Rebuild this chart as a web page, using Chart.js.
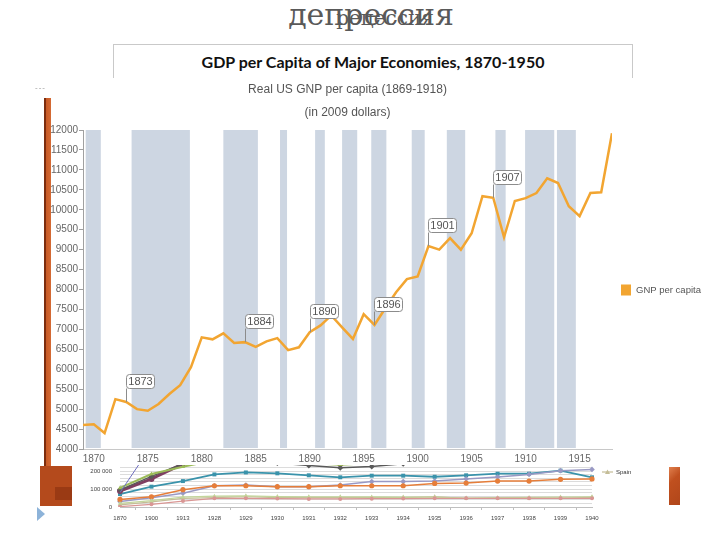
<!DOCTYPE html>
<html>
<head>
<meta charset="utf-8">
<script src="https://cdn.jsdelivr.net/npm/chart.js@4.4.1/dist/chart.umd.min.js"></script>
<style>
  html, body { margin: 0; padding: 0; background: #fff; }
  #slide { position: relative; width: 720px; height: 540px; overflow: hidden; background: #fff; }
  .heading { position: absolute; left: 0; line-height: 1; font-family: "DejaVu Serif", serif; color: #595959; text-align: center; white-space: nowrap; }
  #hBig { top: 0; width: 742px; font-size: 30px; }
  #hSmall { top: 8px; width: 770px; font-size: 20px; }
  #gdpBox { position: absolute; left: 113px; top: 44px; width: 518px; height: 60px; border: 1px solid #c9c9c9; text-align: center; }
  #gdpBox span { position: absolute; left: 0; right: 0; top: 9px; line-height: 1; font-family: Lato, "Open Sans", sans-serif; font-weight: bold; font-size: 16px; color: #111; }
  #lowerWrap { position: absolute; left: 0; top: 400px; z-index: 1; }
  #mainWrap { position: absolute; left: 0; top: 78px; z-index: 2; background: #fff; }
  canvas { display: block; }
  .deco { position: absolute; z-index: 3; }
  #dots { left: 35px; top: 83px; font: 8px "Liberation Sans", sans-serif; color: #999; letter-spacing: 1px; }
  #bar { left: 44px; top: 98px; width: 7px; height: 395px; background: linear-gradient(to right, #7c2d0e 0, #7c2d0e 30%, #c85a26 30%, #d46a34 100%); }
  #frame { left: 40px; top: 466px; width: 32px; height: 40px; background: #b44a1c; }
  #frameIn { left: 55px; top: 487px; width: 17px; height: 13px; background: #9a3a14; }
  #rightFrame { left: 669px; top: 467px; width: 11px; height: 38px; background: linear-gradient(135deg, #e0804e 0, #c0501f 35%, #b0461a 100%); }
  #arrow { left: 37px; top: 507px; width: 0; height: 0; border-left: 8px solid #8db3d9; border-top: 7px solid transparent; border-bottom: 7px solid transparent; }
</style>
</head>
<body>
<div id="slide">
  <div class="heading" id="hBig">депрессия</div>
  <div class="heading" id="hSmall">рецессия</div>
  <div id="gdpBox"><span>GDP per Capita of Major Economies, 1870-1950</span></div>
  <div id="lowerWrap"><canvas id="gdpChart" width="720" height="140"></canvas></div>
  <div id="mainWrap"><canvas id="gnpChart" width="720" height="387"></canvas></div>
  <div class="deco" id="dots">---</div>
  <div class="deco" id="bar"></div>
  <div class="deco" id="frame"></div>
  <div class="deco" id="frameIn"></div>
  <div class="deco" id="rightFrame"></div>
  <div class="deco" id="arrow"></div>
</div>
<script>
// MAIN CHART DATA
const years = [1869, 1870, 1871, 1872, 1873, 1874, 1875, 1876, 1877, 1878,
  1879, 1880, 1881, 1882, 1883, 1884, 1885, 1886, 1887, 1888,
  1889, 1890, 1891, 1892, 1893, 1894, 1895, 1896, 1897, 1898,
  1899, 1900, 1901, 1902, 1903, 1904, 1905, 1906, 1907, 1908,
  1909, 1910, 1911, 1912, 1913, 1914, 1915, 1916, 1917, 1918]
const gnpPerCapita = [4600, 4620, 4400, 5250, 5180, 5000, 4960, 5130, 5380, 5600,
  6050, 6800, 6750, 6900, 6660, 6680, 6560, 6700, 6780, 6480,
  6550, 6930, 7100, 7350, 7050, 6760, 7380, 7110, 7530, 7930,
  8260, 8330, 9090, 9000, 9290, 9000, 9410, 10340, 10300, 9310,
  10220, 10290, 10420, 10790, 10670, 10090, 9840, 10420, 10440, 11920]
const recessionStart = [1869.25, 1873.5, 1882.0, 1887.25, 1890.5, 1893.0, 1895.7, 1899.45, 1902.7, 1907.2, 1909.95, 1912.9]
const recessionEnd = [1870.65, 1878.9, 1885.2, 1887.9, 1891.4, 1894.4, 1897.1, 1900.65, 1904.4, 1908.15, 1912.65, 1914.65]
const markedYears = [1873, 1884, 1890, 1896, 1901, 1907]
const xTickYears = [1870, 1875, 1880, 1885, 1890, 1895, 1900, 1905, 1910, 1915]

// LOWER (CROPPED) CHART DATA
const gdpYears = ['1870', '1900', '1913', '1928', '1929', '1930', '1931', '1932', '1933', '1934', '1935', '1936', '1937', '1938', '1939', '1940']
const gdpGridValues = [0, 20000, 40000, 60000, 80000, 100000, 120000, 140000, 160000, 180000, 200000, 220000, 240000]
const gdpLabelValues = [0, 100000, 200000]
const tealSeries = [72000, 113000, 144000, 181000, 192000, 187000, 176000, 165000, 174000, 174000, 168000, 176000, 185000, 185000, 202000, 165000]
const lavenderSeries = [30000, 52000, 76000, 118000, 122000, 113000, 113000, 122000, 141000, 141000, 144000, 156000, 167000, 181000, 202000, 209000]
const orangeSeries = [42000, 57000, 96000, 118000, 118000, 113000, 113000, 118000, 118000, 118000, 131000, 133000, 144000, 144000, 154000, 156000]
const spainSeries = [12000, 29000, 48000, 52000, 57000, 52000, 52000, 52000, 52000, 52000, 57000, 48000, 50000, 48000, 50000, 54000]
const greenSeries = [20000, 35000, 55000, 60000, 62000, 58000, 57000, 57000, 56000, 55000, 55000, 50000, 52000, 53000, 55000, 57000]
const salmonSeries = [2000, 15000, 33000, 48000, 48000, 47000, 45000, 45000, 46000, 47000, 48000, 48000, 48000, 48000, 48000, 48000]
const maroonSeries = [89000, 156000, 240000, 280000, 290000, 270000, 255000, 240000, 250000, 260000, 270000, 280000, 290000, 285000, 300000, 310000]
const greySeries = [95000, 170000, 240000, 250000, 260000, 245000, 230000, 218000, 225000, 240000, 250000, 255000, 260000, 255000, 270000, 280000]
const oliveSeries = [106000, 183000, 224000, 260000, 270000, 255000, 245000, 235000, 245000, 255000, 265000, 270000, 280000, 280000, 290000, 300000]
const blueSeries = [80000, 340000, 400000, 420000, 430000, 410000, 400000, 390000, 400000, 410000, 420000, 430000, 440000, 440000, 450000, 460000]

const FONT = '"Liberation Sans", Arial, sans-serif'
const lineColor = '#f2a531'


// RECESSION BANDS
const recessionBands = {
    id: 'recessionBands',
    beforeDatasetsDraw(chart) {
        const { ctx, chartArea, scales: { x } } = chart
        ctx.save()
        ctx.fillStyle = '#cdd6e2'
        recessionStart.forEach((start, i) => {
            const x0 = x.getPixelForValue(start)
            const x1 = x.getPixelForValue(recessionEnd[i])
            ctx.fillRect(x0, chartArea.top, x1 - x0, chartArea.bottom - chartArea.top - 1)
        })
        ctx.restore()
    }
}

// YEAR CALLOUTS
const yearMarkers = {
    id: 'yearMarkers',
    afterDatasetsDraw(chart) {
        const { ctx, scales: { x, y } } = chart
        ctx.save()
        ctx.font = '11px ' + FONT
        ctx.textAlign = 'center'
        ctx.textBaseline = 'middle'
        markedYears.forEach(yr => {
            const i = years.indexOf(yr)
            const px = Math.round(x.getPixelForValue(yr)) + 0.5
            const py = y.getPixelForValue(gnpPerCapita[i])
            const w = 28, h = 14, bottom = Math.round(py - 14) + 0.5
            ctx.strokeStyle = '#8c8c8c'
            ctx.lineWidth = 1
            ctx.beginPath()
            ctx.moveTo(px, py)
            ctx.lineTo(px, bottom)
            ctx.stroke()
            ctx.beginPath()
            ctx.roundRect(px, bottom - h, w, h, 3)
            ctx.fillStyle = '#fff'
            ctx.fill()
            ctx.stroke()
            ctx.fillStyle = '#555'
            ctx.fillText(String(yr), px + w / 2, bottom - h / 2 + 0.5)
        })
        ctx.restore()
    }
}

// SIDE LEGEND
const sideLegend = {
    id: 'sideLegend',
    afterDraw(chart) {
        const { ctx, chartArea } = chart
        const cy = (chartArea.top + chartArea.bottom) / 2
        ctx.save()
        ctx.fillStyle = lineColor
        ctx.fillRect(chartArea.right + 9, cy - 5, 10, 11)
        ctx.fillStyle = '#555'
        ctx.font = '9.5px ' + FONT
        ctx.textBaseline = 'middle'
        ctx.fillText(chart.data.datasets[0].label, chartArea.right + 24, cy + 1)
        ctx.restore()
    }
}

const gnpChart = new Chart(document.getElementById('gnpChart'), {
    type: 'line',
    data: {
        datasets: [{
            label: 'GNP per capita',
            data: years.map((yr, i) => ({ x: yr, y: gnpPerCapita[i] })),
            borderColor: lineColor,
            borderWidth: 2.5,
            pointRadius: 0,
            tension: 0,
            fill: false
        }]
    },
    options: {
        responsive: false,
        animation: false,
        layout: { padding: { left: 0, right: 108, top: 0, bottom: 0 } },
        plugins: {
            legend: { display: false },
            tooltip: { enabled: false },
            title: {
                display: true,
                fullSize: false,
                text: ['Real US GNP per capita (1869-1918)', '(in 2009 dollars)'],
                color: '#555',
                font: { family: FONT, size: 12, weight: 'normal', lineHeight: 23 / 12 },
                padding: { top: 0, bottom: 6 }
            }
        },
        scales: {
            x: {
                type: 'linear',
                min: 1869,
                max: 1918,
                afterBuildTicks: s => { s.ticks = xTickYears.map(v => ({ value: v })) },
                afterFit: s => { s.height = 16 },
                grid: { display: false, drawTicks: false },
                border: { display: true, color: '#c8c8c8' },
                ticks: { padding: 4, color: '#666', font: { family: FONT, size: 10 }, maxRotation: 0, autoSkip: false, callback: v => String(v) }
            },
            y: {
                min: 4000,
                max: 12000,
                afterFit: s => { s.width = 83 },
                grid: { display: true, drawOnChartArea: false, drawTicks: true, tickLength: 4, color: '#a0a0a0' },
                border: { display: true, color: '#a0a0a0' },
                ticks: { stepSize: 500, padding: 1, color: '#666', font: { family: FONT, size: 10 }, callback: v => String(v) }
            }
        }
    },
    plugins: [recessionBands, yearMarkers, sideLegend]
})


// LOWER CHART
const spainLegend = {
    id: 'spainLegend',
    afterDraw(chart) {
        const { ctx, chartArea } = chart
        const ly = chartArea.top + 28
        const lx = chartArea.right + 10
        ctx.save()
        ctx.strokeStyle = '#c4bd97'
        ctx.lineWidth = 1.2
        ctx.beginPath()
        ctx.moveTo(lx, ly)
        ctx.lineTo(lx + 11, ly)
        ctx.stroke()
        ctx.fillStyle = '#c4bd97'
        ctx.beginPath()
        ctx.moveTo(lx + 5.5, ly - 2.5)
        ctx.lineTo(lx + 8, ly + 2)
        ctx.lineTo(lx + 3, ly + 2)
        ctx.fill()
        ctx.fillStyle = '#333'
        ctx.font = '6px ' + FONT
        ctx.textBaseline = 'middle'
        ctx.fillText('Spain', lx + 14, ly)
        ctx.restore()
    }
}

function series(data, color, style, radius, width) {
    return {
        data: data,
        borderColor: color,
        backgroundColor: color,
        borderWidth: width || 1.5,
        pointStyle: style,
        pointRadius: radius,
        pointBorderWidth: 0,
        tension: 0
    }
}

const gdpChart = new Chart(document.getElementById('gdpChart'), {
    type: 'line',
    data: {
        labels: gdpYears,
        datasets: [
            series(blueSeries, '#6f6fc0', 'circle', 0, 1),
            series(oliveSeries, '#9bbb59', 'triangle', 2.5, 2),
            series(greySeries, '#595959', 'rectRot', 3, 1.5),
            series(maroonSeries, '#7f3f62', 'circle', 3, 3),
            series(salmonSeries, '#d99694', 'circle', 2, 1.2),
            series(greenSeries, '#c3d69b', 'triangle', 2.5, 1.2),
            series(spainSeries, '#c4bd97', 'triangle', 2.5, 1.2),
            series(orangeSeries, '#e67e3a', 'circle', 2.6, 1.5),
            series(lavenderSeries, '#9999c4', 'rectRot', 2.8, 1.5),
            series(tealSeries, '#3a93ab', 'rect', 2.8, 1.8)
        ]
    },
    options: {
        responsive: false,
        animation: false,
        layout: { padding: { left: 0, right: 128, top: 44, bottom: 17 } },
        plugins: { legend: { display: false }, tooltip: { enabled: false } },
        scales: {
            x: {
                afterFit: s => { s.height = 16 },
                grid: { display: true, drawOnChartArea: false, drawTicks: true, tickLength: 3, offset: true, color: '#bfbfbf' },
                border: { display: true, color: '#bfbfbf' },
                ticks: { padding: 5, color: '#444', font: { family: FONT, size: 6 }, maxRotation: 0, autoSkip: false }
            },
            y: {
                min: 0,
                max: 350000,
                afterBuildTicks: s => { s.ticks = gdpGridValues.map(v => ({ value: v })) },
                afterFit: s => { s.width = 120 },
                grid: { color: '#dcdcdc', lineWidth: 1, drawTicks: false },
                border: { display: false },
                ticks: {
                    autoSkip: false, padding: 8, color: '#444', font: { family: FONT, size: 6 },
                    callback: v => (gdpLabelValues.includes(v) ? (v === 0 ? '0' : (v / 1000) + ' 000') : '')
                }
            }
        }
    },
    plugins: [spainLegend]
})
</script>
</body>
</html>
